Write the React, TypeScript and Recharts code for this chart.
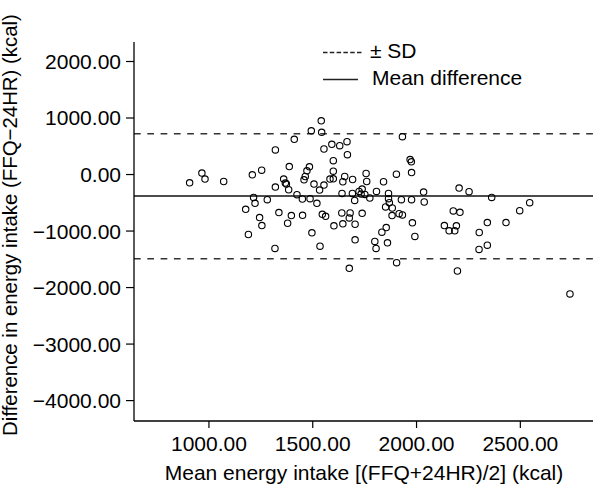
import React from 'react';
import { ScatterChart, Scatter, XAxis, YAxis, ReferenceLine, Customized } from 'recharts';

const meanIntake = [
  907, 966, 981, 1071, 1209, 1254, 1215, 1222, 1281, 1177, 1244, 1255, 1190,
  1320, 1320, 1318, 1337, 1360, 1368, 1373, 1384, 1379, 1387, 1397, 1411, 1424,
  1450, 1451, 1458, 1464, 1472, 1484, 1487, 1493, 1496, 1506, 1520, 1533, 1535,
  1541, 1543, 1546, 1554, 1554, 1562, 1583, 1592, 1599, 1599, 1599, 1602, 1630,
  1640, 1641, 1645, 1645, 1654, 1665, 1667, 1676, 1680, 1676, 1691, 1692, 1702,
  1704, 1704, 1723, 1733, 1738, 1738, 1751, 1757, 1760, 1775, 1799, 1805, 1807,
  1833, 1841, 1851, 1854, 1860, 1865, 1865, 1869, 1883, 1882, 1903, 1904, 1916,
  1927, 1932, 1932, 1969, 1975, 1976, 1976, 1980, 1992, 2034, 2037, 2205, 2253,
  2362, 2545, 2497, 2177, 2209, 2134, 2157, 2184, 2192, 2341, 2431, 2302, 2341,
  2301, 2197, 2739,
];

const difference = [
  -146, 25, -81, -123, -5, 77, -405, -510, -445, -616, -762, -903, -1061,
  435, -222, -1308, -674, -81, -151, -169, -269, -862, 141, -727, 623, -357,
  -433, -722, -93, -35, 65, 136, -428, 774, -1031, -169, -510, -275, -1267,
  950, 746, -704, 452, -187, -739, -81, 535, 246, 60, -76, -908, 510,
  -680, -334, -873, -128, -35, 581, 352, -767, -680, -1660, -334, -88, -458,
  -880, -1155, -299, -345, -257, -686, -352, 18, -123, -415, -1184, -1308, -299,
  -1020, -128, -574, -938, -1208, -334, -428, -498, -592, -727, 7, -1559, -692,
  -445, 669, -715, 264, 224, 35, -445, -855, -1096, -310, -486, -240, -304,
  -405, -498, -639, -644, -669, -903, -996, -996, -908, -850, -850, -1026, -1250,
  -1325, -1707, -2112,
];

const meanDifference = -380;
const upperSD = 722;
const lowerSD = -1490;

const xTicks = [1000, 1500, 2000, 2500];
const yTicks = [-4000, -3000, -2000, -1000, 0, 1000, 2000];

const legendLabels = ['\u00b1 SD', 'Mean difference'];
const xTitle = 'Mean energy intake [(FFQ+24HR)/2] (kcal)';
const yTitle = 'Difference in energy intake (FFQ\u221224HR) (kcal)';

const data = meanIntake.map((x, i) => ({ x, y: difference[i] }));

const FONT = '"Liberation Sans", Arial, sans-serif';
const FS = 21;

const fmt = (v: number) => {
  const s = Math.abs(v).toFixed(2);
  return v < 0 ? '\u2212' + s : s;
};

const Overlay = () => (
  <g fontFamily={FONT} fontSize={FS} fill="#000">
    <line x1={323} y1={52.5} x2={363} y2={52.5} stroke="#222" strokeWidth={1.3} strokeDasharray="4.5 2.3" />
    <text x={370} y={57.5} fill="#000">{legendLabels[0]}</text>
    <line x1={323} y1={79.5} x2={358} y2={79.5} stroke="#222" strokeWidth={1.3} />
    <text x={372} y={85} fill="#000">{legendLabels[1]}</text>
    <text x={364} y={480} textAnchor="middle" fill="#000">{xTitle}</text>
    <text x={17} y={225} textAnchor="middle" fontSize={20.4} fill="#000" transform="rotate(-90 17 225)">{yTitle}</text>
  </g>
);

const Dot = (p: any) => (
  <circle cx={p.cx} cy={p.cy} r={3.2} fill="none" stroke="#000" strokeWidth={1.1} />
);

export default function App() {
  return (
    <div style={{ position: 'absolute', left: 0, top: 0, width: 594, height: 485, background: '#fff' }}>
      <ScatterChart width={594} height={485} margin={{ top: 42, right: 1, bottom: 0, left: 0 }}>
        <XAxis
          type="number"
          dataKey="x"
          domain={[639, 2850]}
          ticks={xTicks}
          tickFormatter={fmt}
          height={64}
          axisLine={{ stroke: '#000', strokeWidth: 1.3 }}
          tickLine={{ stroke: '#000', strokeWidth: 1.2 }}
          tickSize={7}
          tickMargin={8}
          tick={{ fill: '#000', fontSize: FS, fontFamily: FONT }}
          allowDataOverflow
        />
        <YAxis
          type="number"
          dataKey="y"
          domain={[-4361, 2345]}
          ticks={yTicks}
          tickFormatter={fmt}
          width={134}
          axisLine={{ stroke: '#000', strokeWidth: 1.3 }}
          tickLine={{ stroke: '#000', strokeWidth: 1.2 }}
          tickSize={8}
          tickMargin={5}
          tick={{ fill: '#000', fontSize: FS, fontFamily: FONT }}
          allowDataOverflow
        />
        <ReferenceLine y={upperSD} stroke="#333" strokeWidth={1.3} strokeDasharray="6.7 6.6" />
        <ReferenceLine y={lowerSD} stroke="#333" strokeWidth={1.3} strokeDasharray="6.7 6.6" />
        <ReferenceLine y={meanDifference} stroke="#111" strokeWidth={1.3} />
        <Scatter data={data} shape={Dot} isAnimationActive={false} />
        <Customized component={Overlay} />
      </ScatterChart>
    </div>
  );
}
